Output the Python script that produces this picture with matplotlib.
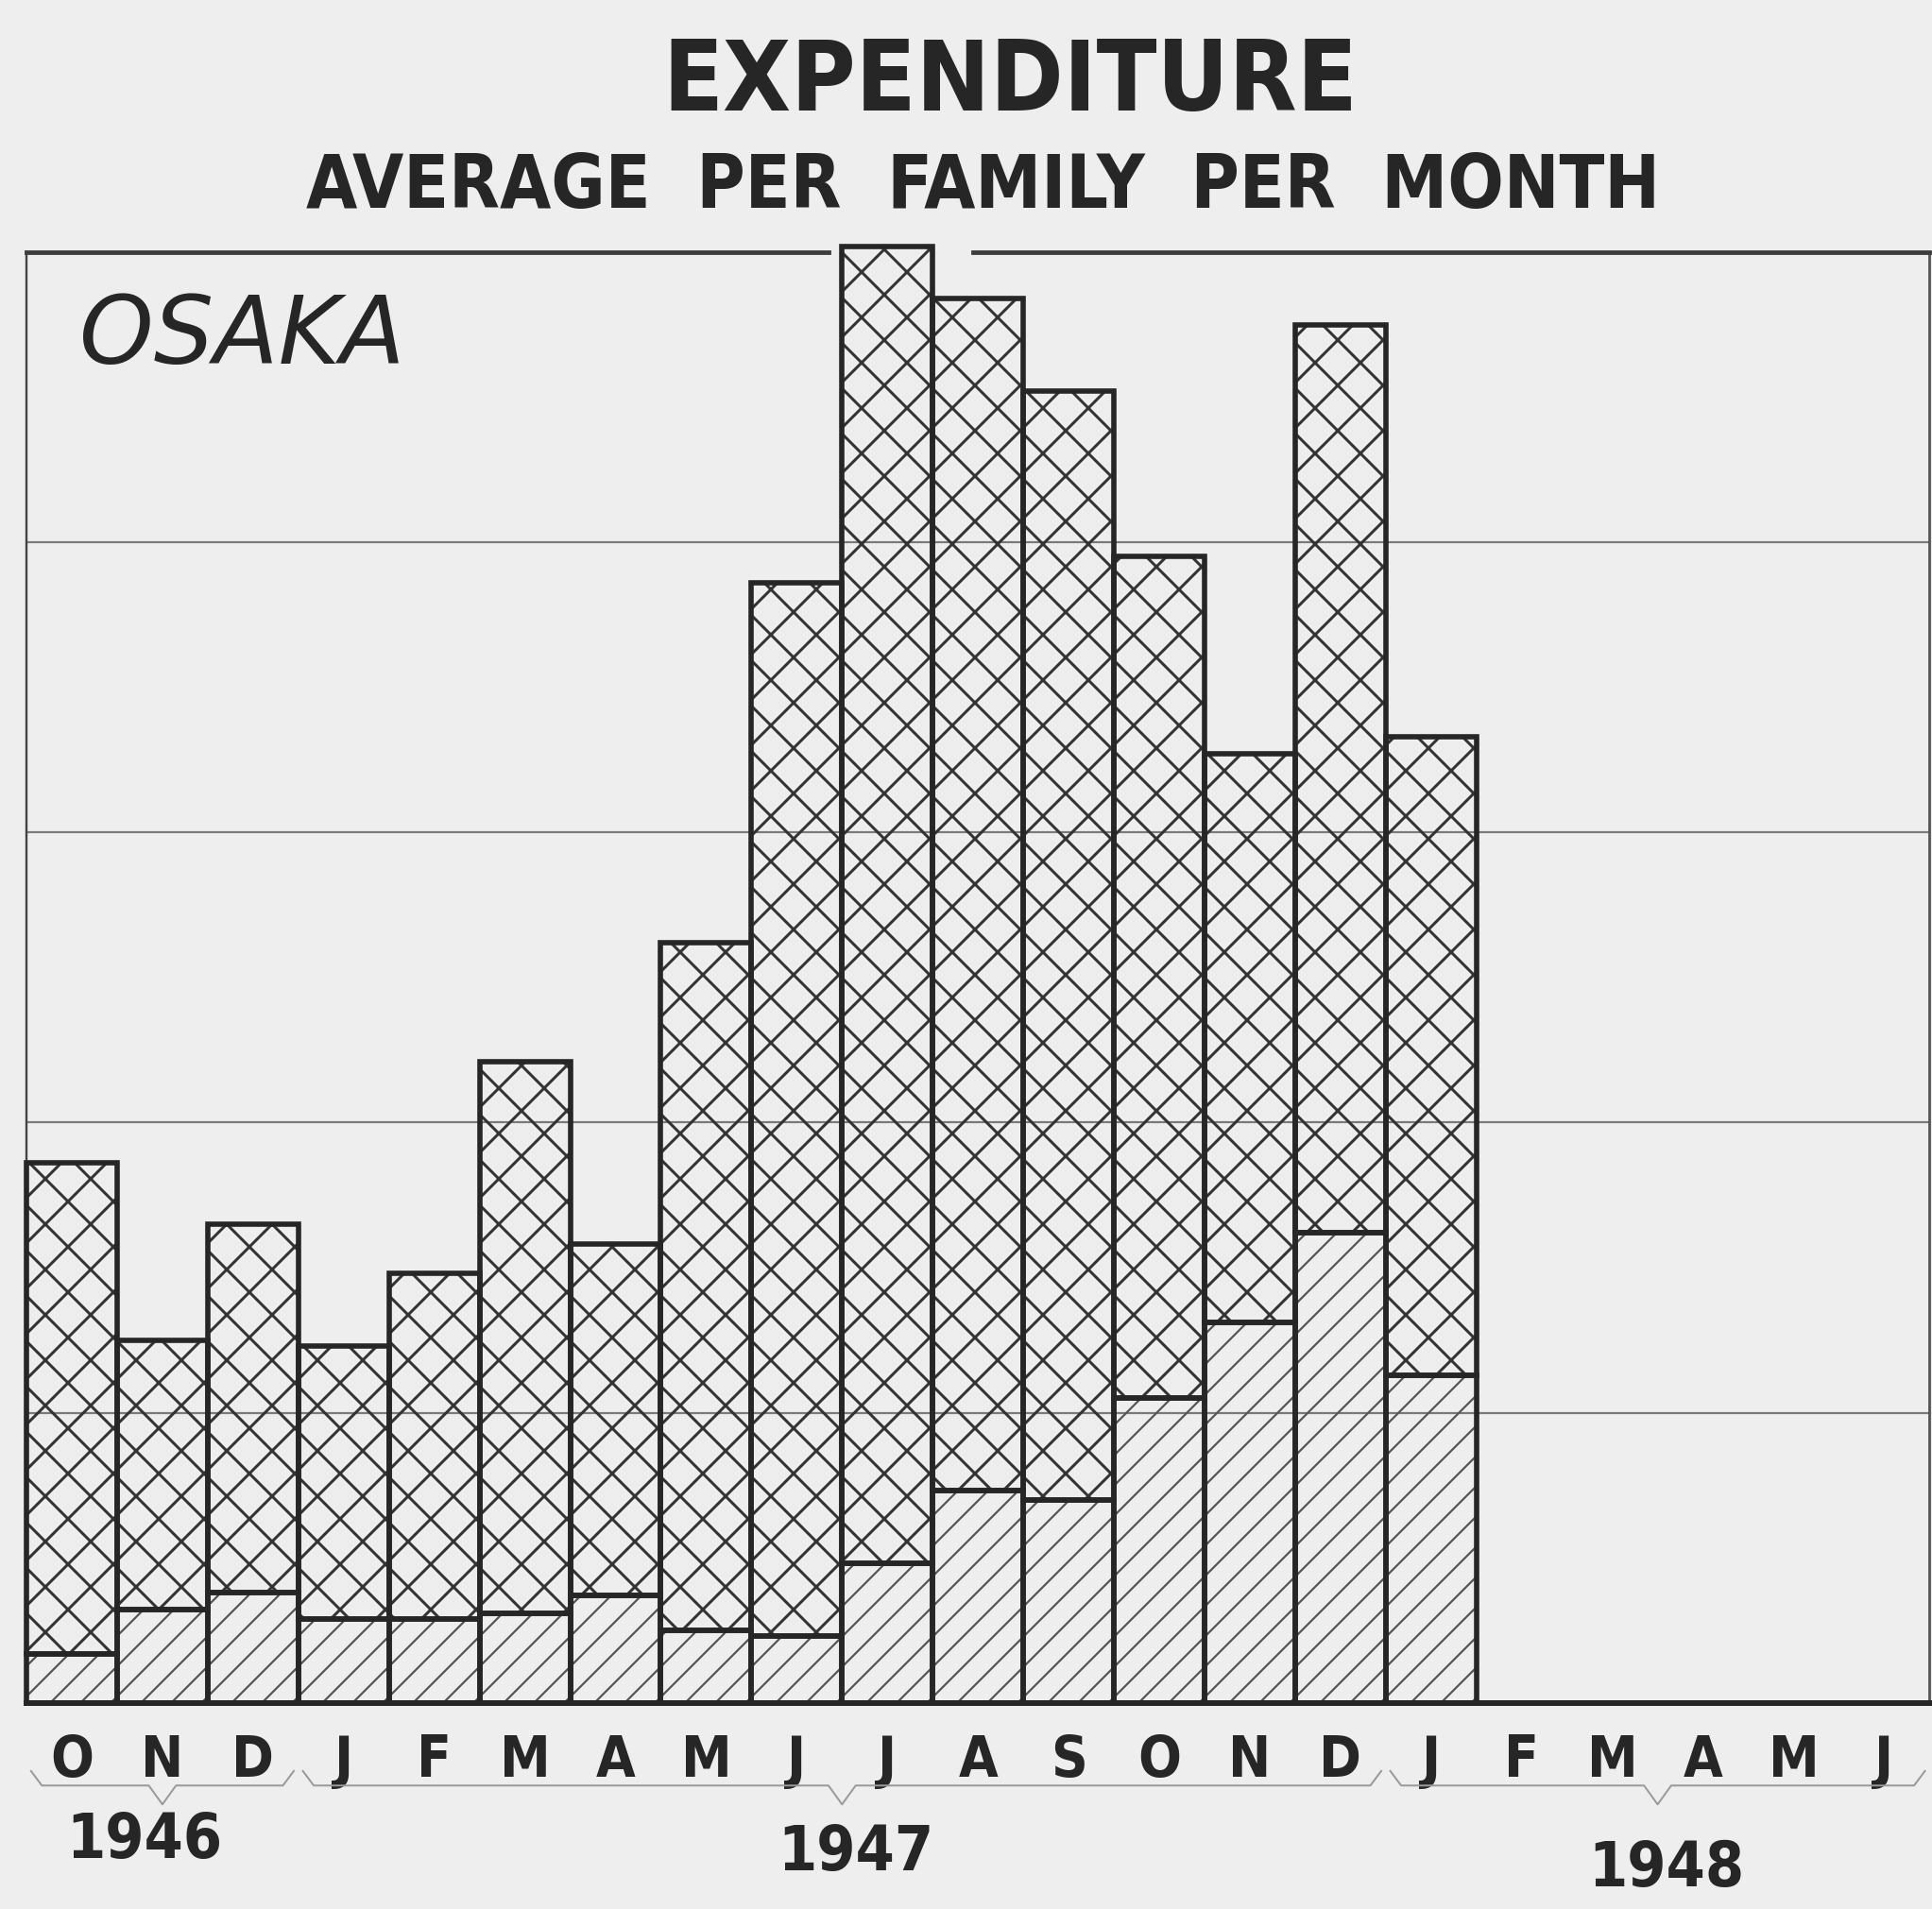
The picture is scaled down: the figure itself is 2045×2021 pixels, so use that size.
import matplotlib.pyplot as plt
import numpy as np

# month slots from Oct 1946 to Jun 1948
months = ['O', 'N', 'D', 'J', 'F', 'M', 'A', 'M', 'J', 'J', 'A', 'S',
          'O', 'N', 'D', 'J', 'F', 'M', 'A', 'M', 'J']
years = ['1946', '1947', '1948']
year_first = [0, 3, 15]
year_last = [2, 14, 20]

# stacked expenditure, one grid step = 1 unit (Oct 1946 - Jan 1948)
lower = [0.17, 0.32, 0.38, 0.29, 0.29, 0.31, 0.37, 0.25,
         0.23, 0.48, 0.73, 0.70, 1.05, 1.31, 1.62, 1.13]
upper = [1.69, 0.93, 1.27, 0.94, 1.19, 1.90, 1.21, 2.37,
         3.63, 4.54, 4.11, 3.82, 2.90, 1.96, 3.13, 2.20]

bg = '#eeeeee'
ink = '#262626'
plt.rcParams['font.family'] = ['DejaVu Sans']
plt.rcParams['font.stretch'] = 'condensed'

DPI = 288
fig = plt.figure(figsize=(2045 / DPI, 2021 / DPI), dpi=DPI, facecolor=bg)
ax = fig.add_axes([0.0137, 0.108, 0.985, 0.760])
ax.set_facecolor(bg)

x = np.arange(len(lower))

for g in [1, 2, 3, 4]:
    ax.axhline(g, color='#7a7a7a', lw=0.55, zorder=1)

# hatching first, outlines on top
with plt.rc_context({'hatch.linewidth': 0.55}):
    ax.bar(x, lower, width=1.0, facecolor='none', edgecolor='#555555',
           hatch='///', linewidth=0, zorder=2, clip_on=False)
with plt.rc_context({'hatch.linewidth': 0.75}):
    ax.bar(x, upper, bottom=lower, width=1.0, facecolor='none',
           edgecolor='#333333', hatch='xx', linewidth=0, zorder=2, clip_on=False)
ax.bar(x, lower, width=1.0, facecolor='none', edgecolor=ink,
       linewidth=1.4, zorder=3, clip_on=False)
ax.bar(x, upper, bottom=lower, width=1.0, facecolor='none', edgecolor=ink,
       linewidth=1.4, zorder=3, clip_on=False)

ax.set_xlim(-0.5, 20.5)
ax.set_ylim(0, 5)

# frame: top line broken where the July bar pokes through
ax.spines['top'].set_visible(False)
ax.plot([-0.5, 8.35], [5, 5], color='#3c3c3c', lw=1.2, clip_on=False, zorder=4)
ax.plot([9.95, 20.5], [5, 5], color='#3c3c3c', lw=1.2, clip_on=False, zorder=4)
ax.spines['left'].set_linewidth(0.6)
ax.spines['left'].set_color('#444444')
ax.spines['right'].set_linewidth(0.7)
ax.spines['right'].set_color('#555555')
ax.spines['bottom'].set_linewidth(1.5)
ax.spines['bottom'].set_color(ink)

ax.set_yticks([])
ax.set_xticks(range(len(months)), months)
ax.tick_params(axis='x', length=0, pad=8, labelsize=15, labelcolor=ink)
for lab in ax.get_xticklabels():
    lab.set_fontweight('bold')

# year braces under the month letters
tr = ax.get_xaxis_transform()
year_x = [0.8, 8.65, 17.6]
year_y = [-0.095, -0.104, -0.115]
for name, a, b, xm, yy in zip(years, year_first, year_last, year_x, year_y):
    xa, xb = a - 0.45, b + 0.45
    mid = (xa + xb) / 2
    ax.plot([xa, xa + 0.12, mid - 0.15, mid, mid + 0.15, xb - 0.12, xb],
            [-0.047, -0.057, -0.057, -0.070, -0.057, -0.057, -0.047],
            transform=tr, color='#9a9a9a', lw=0.5, clip_on=False)
    ax.text(xm, yy, name, transform=tr, ha='center', va='center',
            fontsize=16.5, fontweight='bold', color=ink)

ax.text(0.028, 0.923, 'OSAKA', transform=ax.transAxes, fontsize=25,
        style='italic', fontstretch='normal', color=ink, va='baseline')

fig.text(0.523, 0.956, 'EXPENDITURE', ha='center', va='center',
         fontsize=26, fontweight='bold', color=ink)
fig.text(0.509, 0.902, 'AVERAGE  PER  FAMILY  PER  MONTH', ha='center',
         va='center', fontsize=19.5, fontweight='bold', color=ink)

fig.savefig('out.png', dpi=DPI, facecolor=bg)
